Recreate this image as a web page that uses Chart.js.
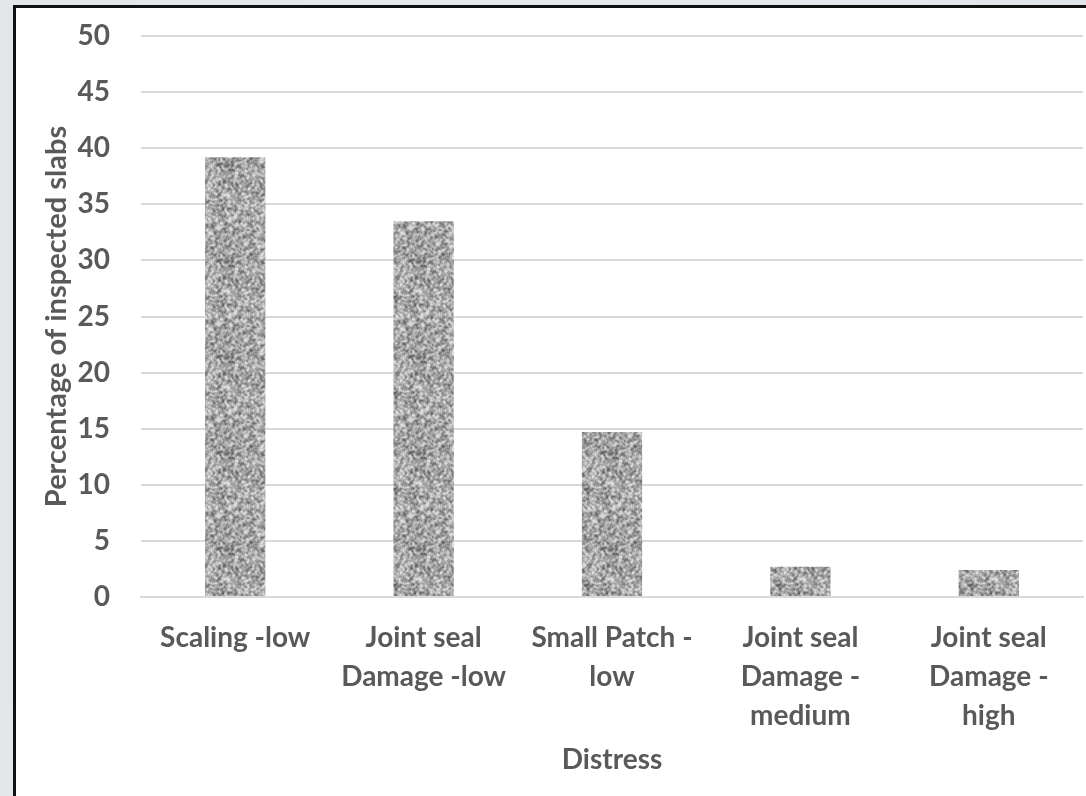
<!DOCTYPE html>
<html>
<head>
<meta charset="utf-8">
<script src="https://cdn.jsdelivr.net/npm/chart.js@4/dist/chart.umd.min.js"></script>
<style>
  html, body { margin: 0; padding: 0; }
  body {
    width: 1086px; height: 796px; overflow: hidden; position: relative;
    background: linear-gradient(100deg, #e2e6e9 0%, #e6e9ec 60%, #dfe4e9 100%);
  }
  #panel {
    position: absolute; left: 13px; top: 5px; right: 0; bottom: -4px;
    background: #ffffff;
    border-left: 3px solid #111;
    border-top: 3px solid #111;
  }
  #wrap { position: absolute; left: 0; top: 0; width: 1086px; height: 796px; }
</style>
</head>
<body>
<div id="panel"></div>
<div id="wrap"><canvas id="c" width="1086" height="796"></canvas></div>
<script>
// Share of inspected slabs for each distress type
const categories = [
  ["Scaling -low"],
  ["Joint seal", "Damage -low"],
  ["Small Patch -", "low"],
  ["Joint seal", "Damage -", "medium"],
  ["Joint seal", "Damage -", "high"]
];
const percentages = [39.2, 33.5, 14.7, 2.7, 2.4];
const yTicks = [0, 5, 10, 15, 20, 25, 30, 35, 40, 45, 50];

const TEXT = '#595959';
const FONT = 'Lato, "Open Sans", sans-serif';

// Speckled grey fill for the bars (deterministic noise, softened)
function speckle() {
  const n = 96;
  let seed = 12345;
  const rnd = () => { seed = (seed * 1103515245 + 12345) & 0x7fffffff; return seed / 0x7fffffff; };
  const raw = new Float32Array(n * n);
  for (let i = 0; i < raw.length; i++) raw[i] = rnd();
  const sm = new Float32Array(n * n);
  for (let y = 0; y < n; y++) for (let x = 0; x < n; x++) {
    let s = 0, w = 0;
    for (let dy = -1; dy <= 1; dy++) for (let dx = -1; dx <= 1; dx++) {
      const k = (dx === 0 && dy === 0) ? 2 : 1;
      s += raw[((y + dy + n) % n) * n + ((x + dx + n) % n)] * k; w += k;
    }
    sm[y * n + x] = s / w;
  }
  const cv = document.createElement('canvas');
  cv.width = n; cv.height = n;
  const cx = cv.getContext('2d');
  const img = cx.createImageData(n, n);
  for (let i = 0; i < sm.length; i++) {
    let v = (sm[i] - 0.5) * 2.2 + 0.55;
    v = Math.max(0, Math.min(1, v));
    const g = Math.round(100 + v * 120);
    img.data[i * 4] = g; img.data[i * 4 + 1] = g; img.data[i * 4 + 2] = g; img.data[i * 4 + 3] = 255;
  }
  cx.putImageData(img, 0, 0);
  const out = document.createElement('canvas');
  out.width = n; out.height = n;
  const ox = out.getContext('2d');
  ox.filter = 'blur(0.5px)';
  for (let dx = -1; dx <= 1; dx++) for (let dy = -1; dy <= 1; dy++) ox.drawImage(cv, dx * n, dy * n);
  return ox.createPattern(out, 'repeat');
}

const ctx = document.getElementById('c').getContext('2d');
new Chart(ctx, {
  type: 'bar',
  data: {
    labels: categories,
    datasets: [{
      data: percentages,
      backgroundColor: speckle(),
      borderWidth: 0,
      barPercentage: 0.32,
      categoryPercentage: 1.0
    }]
  },
  options: {
    responsive: false,
    animation: false,
    events: [],
    layout: { padding: { top: 36, right: 3, left: 0, bottom: 0 } },
    plugins: { legend: { display: false }, tooltip: { enabled: false } },
    scales: {
      x: {
        grid: { display: false, drawTicks: false },
        border: { display: true, color: '#d9d9d9', width: 2 },
        ticks: {
          color: TEXT, padding: 21, maxRotation: 0, autoSkip: false,
          font: { family: FONT, weight: 'bold', size: 28, lineHeight: 39 / 28 }
        },
        title: {
          display: true, text: 'Distress', color: TEXT,
          font: { family: FONT, weight: 'bold', size: 28 },
          padding: { top: 0, bottom: 19 }
        },
        afterFit: (s) => { s.height = 199; }
      },
      y: {
        min: 0, max: 50,
        afterBuildTicks: (s) => { s.ticks = yTicks.map(v => ({ value: v })); },
        grid: { color: '#d9d9d9', lineWidth: 2, drawTicks: false },
        border: { display: false },
        ticks: {
          color: TEXT, padding: 31,
          font: { family: FONT, weight: 'bold', size: 28 }
        },
        title: {
          display: true, text: 'Percentage of inspected slabs', color: TEXT,
          font: { family: FONT, weight: 'bold', size: 29 },
          padding: { top: 39, bottom: 0 }
        },
        afterFit: (s) => { s.width = 141; s.paddingTop = 0; s.paddingBottom = 0; }
      }
    }
  }
});
</script>
</body>
</html>
